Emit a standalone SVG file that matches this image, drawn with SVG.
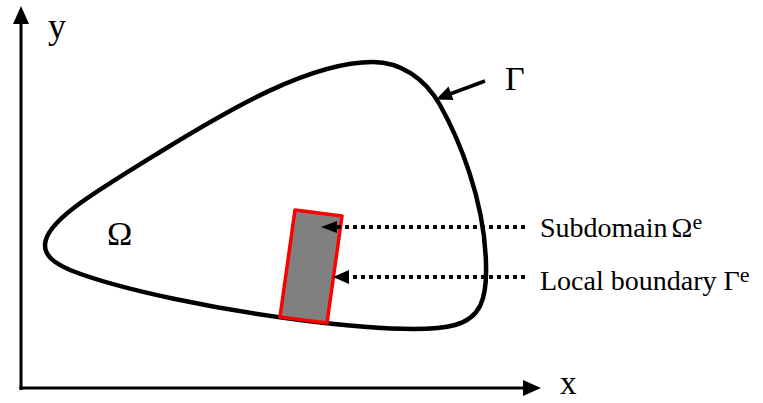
<svg xmlns="http://www.w3.org/2000/svg" width="763" height="403" viewBox="0 0 763 403">
<style>
text{font-family:"Liberation Serif","Times New Roman","DejaVu Serif",serif;fill:#000}
.ax{stroke:#000;stroke-width:3;fill:none}
.dot{stroke:#000;stroke-width:4;stroke-dasharray:4 4;fill:none}
</style>
<rect width="763" height="403" fill="#fff"/>
<g id="axes">
<line class="ax" x1="21" y1="390" x2="21" y2="20"/>
<polygon points="21,6 13,24 29,24" fill="#000"/>
<line class="ax" x1="19.5" y1="388" x2="525" y2="388"/>
<polygon points="541,388 523,380 523,396" fill="#000"/>
<text x="48" y="38" font-size="36">y</text>
<text x="560" y="394" font-size="33">x</text>
</g>
<g id="domain">
<path d="M45,245 C45,222 90,195 160,152 C230,109 310,62 373,62 C400,62 425,78 440,105 C458,137 485,200 486,265 C487,300 480,318 455,325 C430,332 380,330 300,320 C220,310 120,290 70,270 C52,262 45,255 45,245 Z" fill="none" stroke="#000" stroke-width="4.5"/>
<text x="107" y="245" font-size="34">Ω</text>
</g>
<g id="subdomain">
<polygon points="295,210 342,216 327,323 280,317" fill="#808080" stroke="#ff0000" stroke-width="3.5" stroke-linejoin="round"/>
</g>
<g id="gamma-label">
<text x="505" y="90" font-size="34">Γ</text>
</g>
<g id="label-subdomain">
<text x="540" y="237" font-size="28">Subdomain<tspan dx="4">Ω</tspan><tspan font-size="22" dy="-8">e</tspan></text>
</g>
<g id="label-boundary">
<text x="540" y="290" font-size="28">Local boundary <tspan>Γ</tspan><tspan font-size="22" dy="-8">e</tspan></text>
</g>
<g id="connectors">
<line x1="485" y1="81" x2="450" y2="94" stroke="#000" stroke-width="3.5"/>
<polygon points="436,99.5 453.5,100 448.5,86.5" fill="#000"/>
<line class="dot" x1="525" y1="227" x2="337" y2="227"/>
<polygon points="321,227 337,221 337,233" fill="#000"/>
<line class="dot" x1="525" y1="277" x2="349" y2="277"/>
<polygon points="333,277 349,270 349,284" fill="#000"/>
</g>
</svg>
